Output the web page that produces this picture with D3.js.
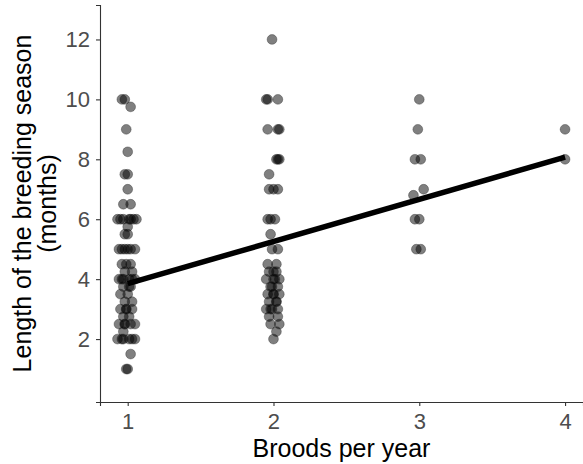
<!DOCTYPE html>
<html lang="en">
<head>
  <meta charset="utf-8">
  <title>Broods per year vs breeding season</title>
  <script src="https://d3js.org/d3.v7.min.js"></script>
  <style>
    body { margin: 0; background: #fff; }
    text { font-family: "Liberation Sans", Arial, sans-serif; }
  </style>
</head>
<body>
  <script>
    // jittered broods per year (x) and season length in months (y)
    var broods = [
      0.96, 0.98, 1.02, 0.99, 1.00, 0.98, 1.00, 1.00, 0.97, 1.02,
      0.93, 0.97, 1.02, 1.06, 0.98, 1.00, 0.94, 0.98, 1.02, 1.05,
      0.96, 1.02, 0.98, 1.03, 0.94, 0.97, 1.01, 1.05, 0.97, 1.02,
      0.95, 1.00, 0.98, 1.03, 0.95, 0.99, 1.03, 0.97, 1.01, 0.94,
      0.98, 1.02, 1.05, 0.97, 0.93, 0.97, 1.01, 1.05, 1.02, 1.00, 0.99,
      0.95, 1.04, 0.96, 1.00, 0.96, 1.03, 1.01, 0.99, 0.96, 1.03,
      0.99, 1.01, 1.00, 0.98,
      1.99, 1.95, 1.96, 2.03, 1.96, 2.03, 2.04, 2.02, 2.04, 1.97,
      1.97, 2.00, 2.03, 1.96, 1.98, 1.98, 1.99, 2.03, 1.96, 2.02,
      1.97, 2.02, 1.95, 2.00, 2.04, 1.98, 2.03, 1.96, 2.00, 2.04,
      1.97, 2.02, 1.95, 1.99, 2.03, 1.97, 2.03, 1.98, 2.04, 2.02, 2.00,
      2.01, 1.99, 2.00, 2.02, 1.98, 2.00, 2.01, 2.03,
      3.00, 2.99, 2.97, 3.01, 3.03, 2.96, 2.97, 3.00, 2.98, 3.01,
      4.00, 4.00
    ];
    var season = [
      10, 10, 9.75, 9, 8.25, 7.5, 7.5, 7, 6.5, 6.5,
      6, 6, 6, 6, 5.5, 5.5, 5, 5, 5, 5,
      4.5, 4.5, 4.25, 4.25, 4, 4, 4, 4, 3.75, 3.75,
      3.5, 3.5, 3.25, 3.25, 3, 3, 3, 2.75, 2.75, 2.5,
      2.5, 2.5, 2.5, 2.25, 2, 2, 2, 2, 1.5, 1, 1,
      6, 6, 5, 5, 4, 4, 3.75, 3, 2, 2,
      4.5, 6, 5.75, 2.5,
      12, 10, 10, 10, 9, 9, 9, 8, 8, 7.5,
      7, 7, 7, 6, 6, 5.5, 5, 5, 4.5, 4.5,
      4.25, 4.25, 4, 4, 4, 3.75, 3.75, 3.5, 3.5, 3.5,
      3.25, 3.25, 3, 3, 3, 2.75, 2.75, 2.5, 2.5, 2.25, 2,
      4, 3.75, 3.5, 3.25, 3, 4.25, 6, 8,
      10, 9, 8, 8, 7, 6.8, 6, 6, 5, 5,
      9, 8
    ];
    var xTicks = [1, 2, 3, 4];
    var yTicks = [2, 4, 6, 8, 10, 12];
    // linear fit: intercept, slope
    var fit = [2.443, 1.407];
    var fitRange = [1, 4];

    var width = 583, height = 464;
    var margin = {top: 5, right: 0, bottom: 62, left: 100};

    var svg = d3.select("body").append("svg")
      .attr("width", width)
      .attr("height", height);

    var x = d3.scaleLinear()
      .domain([0.81, 4.123])
      .range([margin.left, width - margin.right]);

    var y = d3.scaleLinear()
      .domain([-0.1, 13.15])
      .range([height - margin.bottom, margin.top]);

    var pts = d3.range(broods.length).map(function(i) {
      return {x: broods[i], y: season[i]};
    });

    svg.append("g")
      .selectAll("circle")
      .data(pts)
      .enter()
      .append("circle")
      .attr("cx", function(d) { return x(d.x); })
      .attr("cy", function(d) { return y(d.y); })
      .attr("r", 4.9)
      .attr("fill", "#000")
      .attr("fill-opacity", 0.5)
      .attr("stroke", "#222")
      .attr("stroke-opacity", 0.4)
      .attr("stroke-width", 0.9);

    var line = d3.line()
      .x(function(d) { return x(d); })
      .y(function(d) { return y(fit[0] + fit[1] * d); });

    svg.append("path")
      .datum(fitRange)
      .attr("d", line)
      .attr("fill", "none")
      .attr("stroke", "#000")
      .attr("stroke-width", 5.5);

    var xAxis = svg.append("g")
      .attr("transform", "translate(0," + (height - margin.bottom) + ")")
      .call(d3.axisBottom(x).tickValues(xTicks).tickSize(4).tickPadding(7).tickFormat(d3.format("d")));

    var yAxis = svg.append("g")
      .attr("transform", "translate(" + margin.left + ",0)")
      .call(d3.axisLeft(y).tickValues(yTicks).tickSize(4).tickPadding(6).tickFormat(d3.format("d")));

    [xAxis, yAxis].forEach(function(a) {
      a.select(".domain").attr("stroke", "#333").attr("stroke-width", 1.1);
      a.selectAll(".tick line").attr("stroke", "#333").attr("stroke-width", 1.1);
      a.selectAll(".tick text")
        .attr("fill", "#4d4d4d")
        .style("font-size", "22px");
    });

    svg.append("text")
      .attr("x", (margin.left + width - margin.right) / 2)
      .attr("y", 457)
      .attr("text-anchor", "middle")
      .style("font-size", "25px")
      .attr("fill", "#000")
      .text("Broods per year");

    var yt = svg.append("text")
      .attr("transform", "translate(0," + ((height - margin.bottom + margin.top) / 2) + ") rotate(-90)")
      .attr("text-anchor", "middle")
      .style("font-size", "25px")
      .attr("fill", "#000");
    yt.append("tspan").attr("x", 0).attr("y", 31).text("Length of the breeding season");
    yt.append("tspan").attr("x", 0).attr("y", 56).text("(months)");
  </script>
</body>
</html>
